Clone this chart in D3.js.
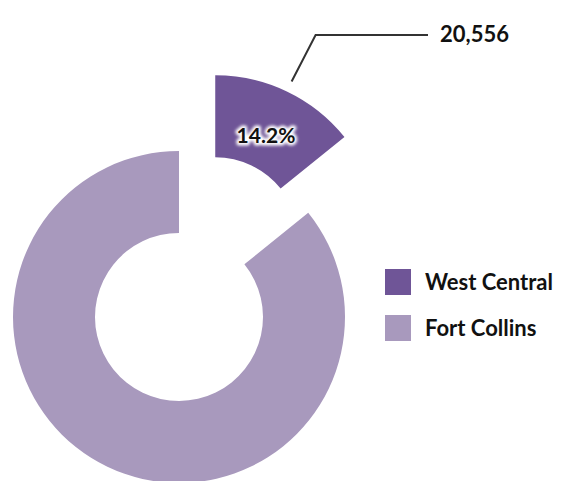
<!DOCTYPE html>
<html>
<head>
<meta charset="utf-8">
<script src="https://cdn.jsdelivr.net/npm/d3@7"></script>
<style>
  body { margin: 0; background: #fff; }
  svg { display: block; font-family: Lato, "Open Sans", sans-serif; }
</style>
</head>
<body>
<div id="chart"></div>
<script>
const categories = ["West Central", "Fort Collins"];
const values = [20556, 124205];
const percentLabels = ["14.2%", ""];
const valueLabels = ["20,556", ""];
const colors = ["#6f5597", "#a899bd"];

const width = 561, height = 481;
const cx = 179, cy = 317;
const outerR = 166, innerR = 84;
const explode = 84;

const svg = d3.select("#chart").append("svg")
  .attr("width", width)
  .attr("height", height);

// soft white halo behind the percent label
const defs = svg.append("defs");
defs.append("filter").attr("id", "soft")
  .attr("x", "-20%").attr("y", "-50%").attr("width", "140%").attr("height", "200%")
  .append("feGaussianBlur").attr("stdDeviation", 1.6);

const pie = d3.pie().sort(null).value(d => d);
const arcs = pie(values);

const arc = d3.arc().innerRadius(innerR).outerRadius(outerR);

function offset(d, i) {
  if (i != 0) return [0, 0];
  let a = (d.startAngle + d.endAngle) / 2;
  return [explode * Math.sin(a), -explode * Math.cos(a)];
}

const g = svg.append("g").attr("transform", `translate(${cx},${cy})`);

const slices = g.selectAll("g.slice")
  .data(arcs)
  .enter().append("g")
  .attr("class", "slice")
  .attr("transform", (d, i) => {
    let [dx, dy] = offset(d, i);
    return `translate(${dx},${dy})`;
  });

slices.append("path")
  .attr("d", arc)
  .attr("fill", (d, i) => colors[i]);

function labelPos(d) {
  let a = (d.startAngle + d.endAngle) / 2;
  let r = (innerR + outerR) / 2 - 12;
  return `translate(${r * Math.sin(a) + 2},${-r * Math.cos(a) - 2})`;
}

const labeled = slices.filter((d, i) => percentLabels[i] != "");

labeled.append("text")
  .attr("transform", labelPos)
  .attr("text-anchor", "middle")
  .attr("dominant-baseline", "middle")
  .attr("font-size", 21)
  .attr("font-weight", "bold")
  .attr("fill", "#fff")
  .attr("stroke", "#fff")
  .attr("stroke-width", 5)
  .attr("stroke-linejoin", "round")
  .attr("filter", "url(#soft)")
  .text((d, i) => percentLabels[i]);

labeled.append("text")
  .attr("transform", labelPos)
  .attr("text-anchor", "middle")
  .attr("dominant-baseline", "middle")
  .attr("font-size", 21)
  .attr("font-weight", "bold")
  .attr("fill", "#111")
  .text((d, i) => percentLabels[i]);

// leader line + value label for the exploded slice
const d0 = arcs[0];
const [ox, oy] = offset(d0, 0);
const a0 = (d0.startAngle + d0.endAngle) / 2;
const p1 = [cx + ox + (outerR + 11) * Math.sin(a0), cy + oy - (outerR + 11) * Math.cos(a0)];
const p2 = [p1[0] + 24, 35];
const p3 = [428, 35];

svg.append("polyline")
  .attr("points", [p1, p2, p3].map(p => p.join(",")).join(" "))
  .attr("fill", "none")
  .attr("stroke", "#333")
  .attr("stroke-width", 2);

svg.append("text")
  .attr("x", p3[0] + 12)
  .attr("y", p3[1] + 1)
  .attr("dominant-baseline", "middle")
  .attr("font-size", 22)
  .attr("font-weight", "bold")
  .attr("fill", "#111")
  .text(valueLabels[0]);

// legend
const legend = svg.append("g").attr("transform", "translate(385,269)");
const items = legend.selectAll("g")
  .data(categories)
  .enter().append("g")
  .attr("transform", (d, i) => `translate(0,${i * 46})`);

items.append("rect")
  .attr("width", 26)
  .attr("height", 26)
  .attr("fill", (d, i) => colors[i]);

items.append("text")
  .attr("x", 40)
  .attr("y", 15)
  .attr("dominant-baseline", "middle")
  .attr("font-size", 22)
  .attr("font-weight", "bold")
  .attr("fill", "#111")
  .text(d => d);
</script>
</body>
</html>
